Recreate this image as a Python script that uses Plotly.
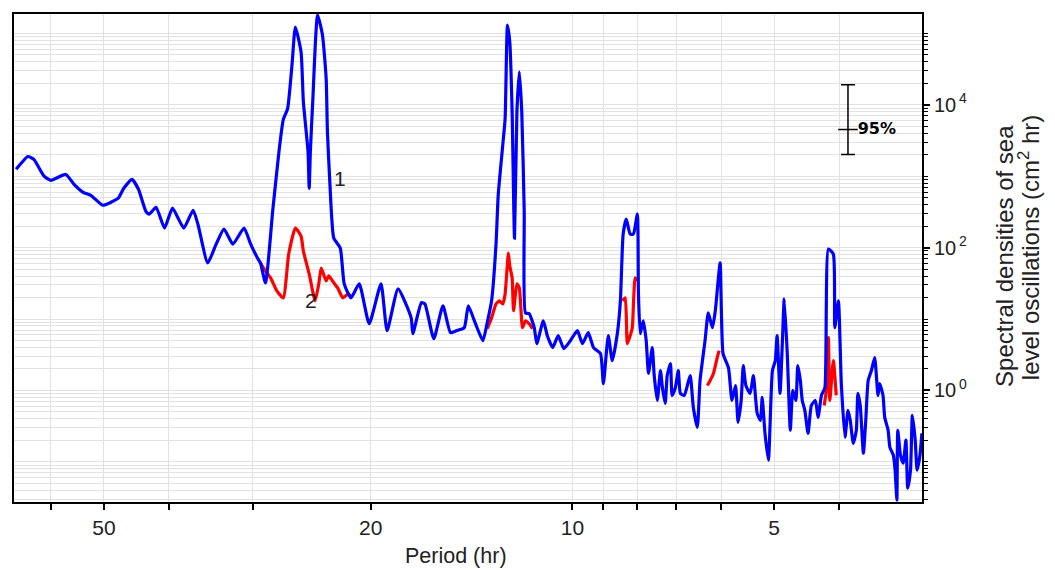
import plotly.graph_objects as go

# ---- data (period in hr, spectral density in cm^2 hr) ----
period_1 = [67.6, 64.9, 63.6, 61.4, 60.0, 57.0, 55.4, 53.7, 52.3, 50.2, 48.8, 47.6, 46.7, 45.4, 44.4,
            43.3, 42.8, 41.8, 40.6, 39.5, 38.0, 36.8, 36.2, 35.0, 34.0, 33.1, 32.1, 30.9, 30.2, 29.5,
            29.2, 28.7, 28.0, 27.4, 27.0, 26.6, 26.2, 25.9, 25.4, 25.2, 24.8, 24.7, 24.6, 24.4, 24.0,
            23.6, 23.3, 23.2, 23.0, 22.7, 22.2, 21.9, 21.4, 20.8, 20.1, 19.3, 18.9, 18.2, 17.4, 17.3,
            16.8, 16.6, 16.1, 15.6, 15.2, 14.9, 14.5, 14.3, 13.95, 13.6, 13.4, 13.2, 13.0, 12.9, 12.7,
            12.6, 12.5, 12.4, 12.3, 12.2, 12.1, 12.0, 11.9, 11.8, 11.75, 11.6, 11.4, 11.3, 11.05, 10.9,
            10.7, 10.5, 10.3, 10.07, 9.83, 9.66, 9.47, 9.30, 9.08, 8.99, 8.84, 8.72, 8.57, 8.48, 8.40,
            8.31, 8.20, 8.11, 8.00, 7.97, 7.92, 7.84, 7.76, 7.70, 7.60, 7.55, 7.47, 7.39, 7.34, 7.27,
            7.22, 7.14, 7.10, 7.02, 6.95, 6.90, 6.81, 6.72, 6.67, 6.60, 6.51, 6.45, 6.34, 6.27, 6.18,
            6.12, 6.02, 5.96, 5.85, 5.78, 5.71, 5.66, 5.60, 5.56, 5.51, 5.43, 5.37, 5.30, 5.24, 5.21,
            5.16, 5.10, 5.03, 4.98, 4.95, 4.90, 4.86, 4.83, 4.78, 4.73, 4.69, 4.64, 4.61, 4.57, 4.54,
            4.50, 4.45, 4.40, 4.34, 4.30, 4.25, 4.20, 4.15, 4.08, 4.06, 4.01, 3.97, 3.92, 3.88, 3.85,
            3.81, 3.77, 3.75, 3.72, 3.68, 3.65, 3.62, 3.58, 3.54, 3.50, 3.48, 3.44, 3.42, 3.38, 3.36,
            3.32, 3.30, 3.28, 3.27, 3.24, 3.21, 3.18, 3.16, 3.13, 3.11, 3.08, 3.06, 3.03, 3.01]
density_1 = [1250, 1890, 1720, 1000, 877, 1060, 771, 596, 541, 393, 432, 492, 678, 905, 657,
             324, 294, 368, 188, 357, 188, 334, 213, 61.0, 112, 182, 112, 188, 112, 71.6,
             61.0, 32.1, 324, 2230, 6220, 8850, 36400, 123000, 55200, 11100, 2230, 678, 2230, 11100, 181000,
             95300, 23200, 4230, 771, 136, 98.7, 31.1, 19.8, 31.1, 8.60, 31.1, 6.87, 26.5, 10.4, 6.24,
             16.9, 16.3, 5.31, 15.3, 6.44, 6.87, 7.56, 15.3, 8.60, 4.98, 8.88, 18.0, 112, 559, 2790,
             6420, 131000, 76100, 8040, 136, 8040, 29000, 8040, 324, 12.2, 11.9, 7.56, 4.52, 9.47, 5.85,
             3.98, 5.85, 3.85, 4.98, 6.87, 4.52, 6.44, 3.98, 3.28, 1.25, 5.85, 2.62, 6.24, 18.0, 155,
             251, 155, 155, 294, 22.5, 6.24, 9.47, 4.98, 1.73, 3.98, 1.62, 0.725, 1.90, 1.10, 0.659,
             1.62, 2.38, 0.852, 1.10, 1.90, 0.908, 0.852, 1.29, 1.62, 0.579, 0.305, 1.38, 4.98, 12.2, 7.56,
             13.1, 61.0, 3.28, 2.09, 0.725, 1.17, 0.358, 0.725, 2.23, 1.17, 0.908, 1.62, 0.478, 0.382, 0.799,
             0.251, 0.106, 1.90, 2.62, 5.85, 0.908, 4.98, 19.2, 3.28, 0.277, 1.0, 0.725, 2.23, 1.38, 0.725,
             0.526, 0.251, 0.618, 0.725, 0.420, 0.852, 1.10, 95.6, 81.4, 7.56, 18.0, 1.25, 0.221, 0.526, 0.382,
             0.182, 0.277, 0.908, 0.618, 0.132, 0.382, 1.38, 1.90, 2.89, 0.852, 1.25, 0.852, 0.420, 0.277, 0.160,
             0.124, 0.0766, 0.0292, 0.277, 0.124, 0.0959, 0.201, 0.0430, 0.0766, 0.448, 0.201, 0.0766, 0.124, 0.251]

# curve 2 differs from curve 1 only inside the tidal bands (None separates the bands)
period_2 = [29.2, 28.7, 28.2, 27.6, 27.0, 26.5, 25.9, 25.4, 25.2, 24.7, 24.2, 23.9, 23.7, 23.3, 23.1,
            22.8, 22.4, 22.0, 21.6, 21.3, None,
            13.4, 13.2, 13.0, 12.85, 12.7, 12.6, 12.46, 12.4, 12.3, 12.24, 12.1, 12.0, 11.87, 11.75, 11.6,
            11.47, None,
            8.42, 8.34, 8.28, 8.20, 8.14, 8.06, 8.00, None,
            6.29, 6.23, 6.16, 6.08, 6.04, None,
            4.21, 4.18, 4.15, 4.13, 4.08, 4.04]
density_2 = [61.0, 47.2, 37.7, 24.8, 19.8, 81.4, 188, 145, 89.7, 42.8, 18.0, 31.1, 51.9, 34.2, 40.2,
             34.2, 27.3, 19.8, 22.5, 19.8, None,
             7.32, 10.4, 16.3, 18.0, 16.3, 22.5, 84.1, 55.4, 37.7, 13.1, 31.1, 27.3, 7.56, 9.47, 8.60,
             7.32, None,
             18.0, 19.8, 4.52, 5.85, 7.56, 37.7, 34.2, None,
             1.17, 1.38, 1.73, 2.89, 3.61, None,
             0.618, 1.0, 5.48, 0.725, 2.62, 0.852]

# 95% confidence interval marker
ci_period = [3.88]
ci_center = [4510]
ci_upper = [19100]
ci_lower = [2020]

# axis ticks
x_major_vals = [5, 10, 20, 50]
x_major_text = ["5", "10", "20", "50"]
x_minor_vals = [3, 4, 6, 7, 8, 9, 30, 40, 60]

y_major_vals = [1, 100, 10000]
y_major_text = ["10<sup>\u20090</sup>", "10<sup>\u20092</sup>", "10<sup>\u20094</sup>"]
y_minor_vals = [k * 10.0 ** n for n in range(-2, 6) for k in range(1, 10)
                if not (k == 1 and n in (0, 2, 4))]

FONT = "Liberation Sans, Arial, sans-serif"
TXT = "#222"
GRID = "#e2e2e2"

fig = go.Figure()
fig.add_trace(go.Scatter(x=period_2, y=density_2, mode="lines", connectgaps=False,
                         line=dict(color="#ff0000", width=3.2, shape="spline", smoothing=0.5), name="2"))
fig.add_trace(go.Scatter(x=period_1, y=density_1, mode="lines",
                         line=dict(color="#0000ff", width=3.2, shape="spline", smoothing=0.5), name="1"))
fig.add_trace(go.Scatter(
    x=ci_period, y=ci_center, mode="markers+text",
    marker=dict(symbol="line-ew", size=14, line=dict(color="black", width=1.5), color="black"),
    error_y=dict(type="data", symmetric=False,
                 array=[u - c for u, c in zip(ci_upper, ci_center)],
                 arrayminus=[c - l for c, l in zip(ci_center, ci_lower)],
                 color="black", thickness=1.5, width=7),
    text=["<b>95%</b>"], textposition="middle right",
    textfont=dict(family="DejaVu Sans", size=16, color="black"), name="95%"))

# curve labels
fig.add_annotation(text="1", xref="paper", yref="paper", x=0.3586, y=0.690, showarrow=False,
                   font=dict(family=FONT, size=21, color=TXT))
fig.add_annotation(text="2", xref="paper", yref="paper", x=0.318, y=0.412, showarrow=False,
                   font=dict(family=FONT, size=21, color=TXT))

# axis titles
fig.add_annotation(text="Period (hr)", xref="paper", yref="paper", x=0.4873, y=-0.110,
                   xanchor="center", yanchor="middle", showarrow=False,
                   font=dict(family=FONT, size=21.5, color=TXT))
fig.add_annotation(text="Spectral densities of sea", xref="paper", yref="paper", x=1.0902, y=0.504,
                   xanchor="center", yanchor="middle", textangle=-90, showarrow=False,
                   font=dict(family=FONT, size=24, color=TXT))
fig.add_annotation(text="level oscillations (cm<sup>2</sup> hr)", xref="paper", yref="paper",
                   x=1.1177, y=0.522, xanchor="center", yanchor="middle", textangle=-90, showarrow=False,
                   font=dict(family=FONT, size=24, color=TXT))

fig.update_layout(
    width=1055, height=570,
    margin=dict(l=13, r=133, t=12, b=68),
    paper_bgcolor="white", plot_bgcolor="white",
    showlegend=False,
    font=dict(family=FONT, size=18, color=TXT),
    xaxis=dict(type="log", range=[1.8331, 0.4784],
               tickmode="array", tickvals=x_major_vals, ticktext=x_major_text,
               ticks="outside", ticklen=6, tickwidth=1.5, tickcolor="black",
               minor=dict(tickmode="array", tickvals=x_minor_vals, ticks="outside", ticklen=6,
                          tickwidth=1.5, tickcolor="black", showgrid=True, gridcolor=GRID, gridwidth=1),
               showline=True, linecolor="black", linewidth=2, mirror=True,
               showgrid=True, gridcolor=GRID, gridwidth=1, zeroline=False,
               tickfont=dict(family=FONT, size=21, color=TXT)),
    yaxis=dict(type="log", side="right", range=[-1.562, 5.272],
               tickmode="array", tickvals=y_major_vals, ticktext=y_major_text,
               ticks="outside", ticklen=6, tickwidth=1.5, tickcolor="black",
               minor=dict(tickmode="array", tickvals=y_minor_vals, ticks="outside", ticklen=4,
                          tickwidth=1.2, tickcolor="black", showgrid=True, gridcolor=GRID, gridwidth=1),
               showline=True, linecolor="black", linewidth=2, mirror=True,
               showgrid=True, gridcolor=GRID, gridwidth=1, zeroline=False,
               tickfont=dict(family=FONT, size=20, color=TXT)),
)

fig.write_html("out.html", config={"displayModeBar": False},
               post_script="document.body.style.margin='0px';")
